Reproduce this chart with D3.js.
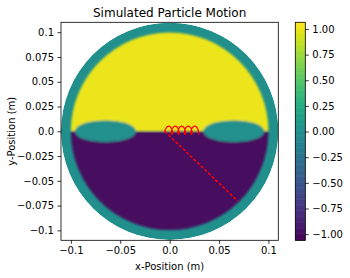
<!DOCTYPE html>
<html>
<head>
<meta charset="utf-8">
<script src="https://cdn.jsdelivr.net/npm/d3@7"></script>
<style>
  html, body { margin: 0; padding: 0; background: #fff; }
  svg { display: block; font-family: "DejaVu Sans", sans-serif; }
</style>
</head>
<body>
<svg id="chart" width="350" height="278"></svg>
<script>
// ---------------- data ----------------
const xTickValues = [-0.1, -0.05, 0.0, 0.05, 0.1];
const xTickLabels = ["\u22120.1", "\u22120.05", "0.0", "0.05", "0.1"];
const yTickValues = [0.1, 0.075, 0.05, 0.025, 0.0, -0.025, -0.05, -0.075, -0.1];
const yTickLabels = ["0.1", "0.075", "0.05", "0.025", "0.0", "\u22120.025", "\u22120.05", "\u22120.075", "\u22120.1"];
const cbTickValues = [1.0, 0.75, 0.5, 0.25, 0.0, -0.25, -0.5, -0.75, -1.0];
const cbTickLabels = ["1.00", "0.75", "0.50", "0.25", "0.00", "\u22120.25", "\u22120.50", "\u22120.75", "\u22121.00"];

// field regions (value, geometry in metres)
const chamberRadius = 0.11;     // outer boundary (value 0)
const innerRadius = 0.10;       // inner disc
const upperValue = 1.0;
const lowerValue = -1.0;
const wallValue = 0.0;
const ellipseCX = [-0.065, 0.065];
const ellipseCY = [0.0, 0.0];
const ellipseRX = [0.031, 0.031];
const ellipseRY = [0.011, 0.011];
const ellipseValue = [0.0, 0.0];

// colour limits
const vmin = -1.06, vmax = 1.065;

// particle trajectory (metres)
const trajX = [-0.004855, -0.00456, -0.003755, -0.00251,
  -0.00101, 0.00049, 0.001735, 0.00254, 0.002835, 0.00269, 0.00229, 0.00189, 0.001745, 0.00204, 0.002845, 0.00409,
  0.00559, 0.00709, 0.008335, 0.00914, 0.009435, 0.00929, 0.00889, 0.00849, 0.008345, 0.00864, 0.009445, 0.01069,
  0.01219, 0.01369, 0.014935, 0.01574, 0.016035, 0.01589, 0.01549, 0.01509, 0.014945, 0.01524, 0.016045, 0.01729,
  0.01879, 0.02029, 0.021535, 0.02234, 0.022635, 0.02249, 0.02209, 0.02169, 0.021545, 0.02184, 0.022645, 0.02389,
  0.02539, 0.02689, 0.028135, 0.02894, 0.029235, 0.02909, 0.02869];
const trajY = [-0.0011, 0.0010, 0.0031, 0.004637,
  0.0052, 0.004637, 0.0031, 0.0010, -0.0011, -0.002637, -0.0032, -0.002637, -0.0011, 0.0010, 0.0031, 0.004637,
  0.0052, 0.004637, 0.0031, 0.0010, -0.0011, -0.002637, -0.0032, -0.002637, -0.0011, 0.0010, 0.0031, 0.004637,
  0.0052, 0.004637, 0.0031, 0.0010, -0.0011, -0.002637, -0.0032, -0.002637, -0.0011, 0.0010, 0.0031, 0.004637,
  0.0052, 0.004637, 0.0031, 0.0010, -0.0011, -0.002637, -0.0032, -0.002637, -0.0011, 0.0010, 0.0031, 0.004637,
  0.0052, 0.004637, 0.0031, 0.0010, -0.0011, -0.002637, -0.0032];

// dashed drift direction line
const driftX = [-0.0050, 0.0687];
const driftY = [0.0000, -0.0702];

// ---------------- drawing ----------------
const svg = d3.select("#chart");
const plot = { left: 61.0, right: 278.3, top: 22.3, bottom: 240.3 };
const x = d3.scaleLinear().domain([-0.11, 0.11]).range([plot.left, plot.right]);
const y = d3.scaleLinear().domain([-0.11, 0.11]).range([plot.bottom, plot.top]);
const color = d3.scaleSequential(d3.interpolateViridis).domain([vmin, vmax]);
const rpx = r => x(r) - x(0);

const defs = svg.append("defs");
defs.append("clipPath").attr("id", "chamber")
  .append("circle").attr("cx", x(0)).attr("cy", y(0)).attr("r", rpx(chamberRadius));
defs.append("clipPath").attr("id", "plotArea")
  .append("rect").attr("x", plot.left).attr("y", plot.top)
  .attr("width", plot.right - plot.left).attr("height", plot.bottom - plot.top);
defs.append("filter").attr("id", "soft").attr("x", "-10%").attr("y", "-10%").attr("width", "120%").attr("height", "120%")
  .append("feGaussianBlur").attr("stdDeviation", 0.9);
defs.append("clipPath").attr("id", "upperHalf")
  .append("rect").attr("x", x(-0.11)).attr("y", y(0.11)).attr("width", x(0.11) - x(-0.11)).attr("height", y(0) - y(0.11));
defs.append("clipPath").attr("id", "lowerHalf")
  .append("rect").attr("x", x(-0.11)).attr("y", y(0)).attr("width", x(0.11) - x(-0.11)).attr("height", y(-0.11) - y(0));

const field = svg.append("g").attr("clip-path", "url(#chamber)");
field.append("circle").attr("cx", x(0)).attr("cy", y(0)).attr("r", rpx(chamberRadius))
  .attr("fill", color(wallValue));
const inner = field.append("g").attr("filter", "url(#soft)");
inner.append("circle").attr("cx", x(0)).attr("cy", y(0)).attr("r", rpx(innerRadius))
  .attr("fill", color(upperValue)).attr("clip-path", "url(#upperHalf)");
inner.append("circle").attr("cx", x(0)).attr("cy", y(0)).attr("r", rpx(innerRadius))
  .attr("fill", color(lowerValue)).attr("clip-path", "url(#lowerHalf)");
inner.selectAll("ellipse").data(d3.range(ellipseCX.length)).join("ellipse")
  .attr("cx", i => x(ellipseCX[i])).attr("cy", i => y(ellipseCY[i]))
  .attr("rx", i => rpx(ellipseRX[i])).attr("ry", i => rpx(ellipseRY[i]))
  .attr("fill", i => color(ellipseValue[i]));

// trajectory
const overlay = svg.append("g").attr("clip-path", "url(#plotArea)");
overlay.append("path")
  .datum(d3.range(driftX.length))
  .attr("d", d3.line().x(i => x(driftX[i])).y(i => y(driftY[i])))
  .attr("fill", "none").attr("stroke", "#ff0000").attr("stroke-width", 1.5)
  .attr("stroke-dasharray", "3.2,1.8");
overlay.append("path")
  .datum(d3.range(trajX.length))
  .attr("d", d3.line().curve(d3.curveCatmullRom.alpha(0.5)).x(i => x(trajX[i])).y(i => y(trajY[i])))
  .attr("fill", "none").attr("stroke", "#ff0000").attr("stroke-width", 1.3);

// axes
const fontSize = 10;
const xAxis = d3.axisBottom(x).tickValues(xTickValues)
  .tickFormat((d, i) => xTickLabels[i]).tickSize(3.5).tickSizeOuter(0).tickPadding(3.5);
const yAxis = d3.axisLeft(y).tickValues(yTickValues)
  .tickFormat((d, i) => yTickLabels[i]).tickSize(3.5).tickSizeOuter(0).tickPadding(3.5);
const gx = svg.append("g").attr("transform", `translate(0,${plot.bottom})`).call(xAxis);
const gy = svg.append("g").attr("transform", `translate(${plot.left},0)`).call(yAxis);
[gx, gy].forEach(g => {
  g.select(".domain").remove();
  g.selectAll(".tick line").attr("stroke", "#000").attr("stroke-width", 0.8);
  g.selectAll(".tick text").attr("fill", "#000").attr("font-size", fontSize)
    .attr("font-family", "DejaVu Sans, sans-serif");
});
// spines
svg.append("rect").attr("x", plot.left).attr("y", plot.top)
  .attr("width", plot.right - plot.left).attr("height", plot.bottom - plot.top)
  .attr("fill", "none").attr("stroke", "#000").attr("stroke-width", 0.8);

// labels
svg.append("text").attr("x", (plot.left + plot.right) / 2).attr("y", 16.5)
  .attr("text-anchor", "middle").attr("font-size", 12).attr("fill", "#000")
  .text("Simulated Particle Motion");
svg.append("text").attr("x", (plot.left + plot.right) / 2).attr("y", 269.5)
  .attr("text-anchor", "middle").attr("font-size", fontSize).attr("fill", "#000")
  .text("x-Position (m)");
svg.append("text").attr("transform", `translate(14.5,${(plot.top + plot.bottom) / 2}) rotate(-90)`)
  .attr("text-anchor", "middle").attr("font-size", fontSize).attr("fill", "#000")
  .text("y-Position (m)");

// colorbar
const cb = { left: 295.3, right: 305.3, top: 22.3, bottom: 240.3 };
const cy = d3.scaleLinear().domain([vmin, vmax]).range([cb.bottom, cb.top]);
const nSteps = 256;
const steps = d3.range(nSteps).map(i => vmin + (vmax - vmin) * i / nSteps);
const stepH = (vmax - vmin) / nSteps;
svg.append("g").selectAll("rect").data(steps).join("rect")
  .attr("x", cb.left).attr("width", cb.right - cb.left)
  .attr("y", d => cy(d + stepH) - 0.3).attr("height", d => cy(d) - cy(d + stepH) + 0.6)
  .attr("fill", d => color(d + stepH / 2));
svg.append("rect").attr("x", cb.left).attr("y", cb.top)
  .attr("width", cb.right - cb.left).attr("height", cb.bottom - cb.top)
  .attr("fill", "none").attr("stroke", "#000").attr("stroke-width", 0.8);
const cbAxis = d3.axisRight(cy).tickValues(cbTickValues)
  .tickFormat((d, i) => cbTickLabels[i]).tickSize(3.5).tickSizeOuter(0).tickPadding(3.5);
const gcb = svg.append("g").attr("transform", `translate(${cb.right},0)`).call(cbAxis);
gcb.select(".domain").remove();
gcb.selectAll(".tick line").attr("stroke", "#000").attr("stroke-width", 0.8);
gcb.selectAll(".tick text").attr("fill", "#000").attr("font-size", fontSize)
  .attr("font-family", "DejaVu Sans, sans-serif");
</script>
</body>
</html>
